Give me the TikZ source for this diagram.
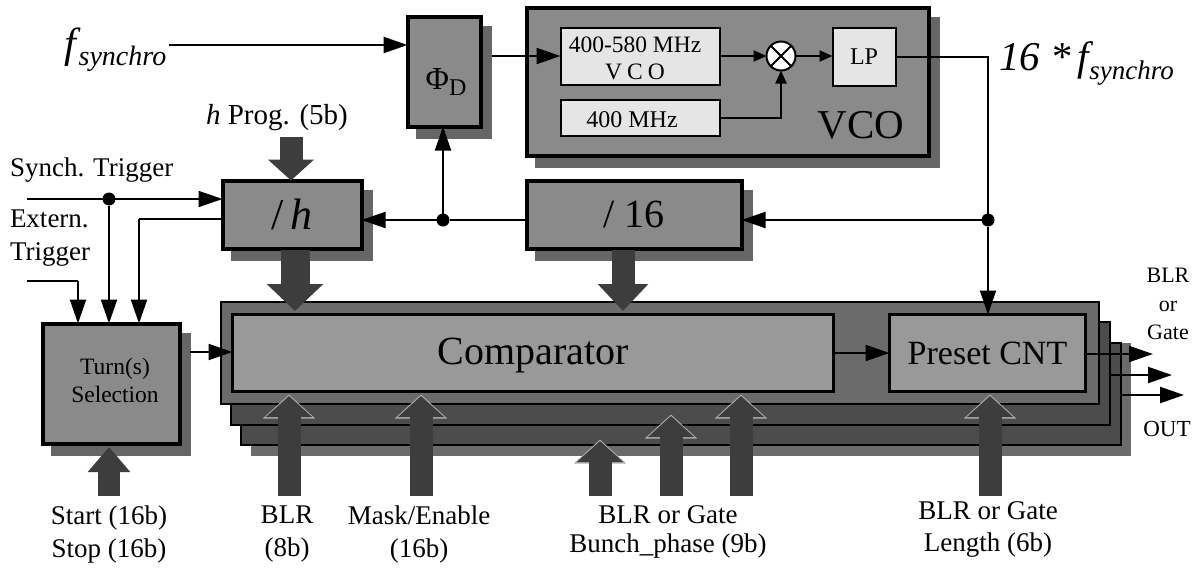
\documentclass[tikz,border=0pt]{standalone}
\usepackage{fontspec}
\setmainfont{Liberation Serif}
\usetikzlibrary{arrows.meta,calc}
\definecolor{boxgray}{gray}{0.54}
\definecolor{shadowgray}{gray}{0.40}
\definecolor{innergray}{gray}{0.90}
\definecolor{compgray}{gray}{0.60}
\definecolor{stackgray}{gray}{0.30}
\definecolor{backgray}{gray}{0.42}
\definecolor{shaftgray}{gray}{0.24}
\definecolor{halogray}{gray}{0.68}
\newcommand{\fs}[1]{\fontsize{#1}{#1}\selectfont}
\tikzset{
  blockbox/.style={draw=black,line width=4pt,fill=boxgray,inner sep=0pt,outer sep=0pt,align=center},
  innerbox/.style={draw=black,line width=2pt,fill=innergray,inner sep=0pt,outer sep=0pt,align=center},
  compbox/.style={draw=black,line width=3pt,fill=compgray,inner sep=0pt,outer sep=0pt,align=center},
  wire/.style={draw=black,line width=2pt,-{Triangle[length=24pt,width=16pt]}},
  smallwire/.style={draw=black,line width=2pt,-{Triangle[length=13pt,width=11pt]}},
  plainwire/.style={draw=black,line width=2pt},
  dotnode/.style={circle,fill=black,inner sep=0pt,minimum size=13pt,outer sep=0pt},
  bigarrow/.style={draw=shaftgray,line width=23pt,line cap=butt,-{Triangle[length=21pt,width=45pt]}},
  haloarrow/.style={bigarrow,preaction={draw=halogray,line width=23pt,-{Triangle[length=24pt,width=51pt]},shorten >=-1.5pt}},
  label/.style={inner sep=0pt,outer sep=0pt,align=center,font=\fs{27}},
  smalllabel/.style={label,font=\fs{22}}
}
% \blk[style]{name}{x1}{y1}{x2}{y2}{text}
\newcommand{\blk}[7][blockbox]{%
  \pgfmathsetmacro{\bw}{#5-#3-3}\pgfmathsetmacro{\bh}{#6-#4-3}%
  \pgfmathsetmacro{\bx}{(#3+#5)/2}\pgfmathsetmacro{\by}{(#4+#6)/2}%
  \node[#1,minimum width=\bw pt,minimum height=\bh pt] (#2) at (\bx,\by) {#7};}
\newcommand{\shadow}[4]{\fill[shadowgray] (#1+10,#2+11) rectangle (#3+10,#4+11);}
\begin{document}
\begin{tikzpicture}[x=1pt,y=-1pt]
\useasboundingbox (0,0) rectangle (1200,568);
\fill[white] (0,0) rectangle (1200,568);

% shadows
\shadow{406}{15}{482}{128}
\shadow{525}{6}{930}{157}
\shadow{221}{179}{363}{250}
\shadow{525}{179}{743}{250}
\shadow{41}{322}{181}{445}

% comparator stack
\fill[backgray] (251,343) rectangle (1131,456);
\draw[line width=2.4pt,fill=stackgray] (241,343) rectangle (1121,445);
\draw[line width=2.4pt,fill=stackgray] (231,322) rectangle (1110,425);
\draw[line width=2.4pt,fill=backgray] (221,302) rectangle (1099,404);

% blocks
\blk{phi}{406}{15}{482}{128}{}
\blk{vcobox}{525}{6}{930}{157}{}
\blk{divh}{221}{179}{363}{250}{\fs{44}/\,\textit{h}}
\blk{div16}{525}{179}{743}{250}{\fs{40}/ 16}
\blk{turn}{41}{322}{181}{445}{}
\blk[compbox]{comp}{231}{313}{835}{393}{\fs{40}\raisebox{-11pt}[0pt][0pt]{Comparator}}
\blk[compbox]{preset}{888}{313}{1087}{393}{\fs{34}Preset CNT}
\blk[innerbox]{vcoa}{559}{26}{721}{86}{}
\blk[innerbox]{vcob}{559}{98}{721}{137}{}
\blk[innerbox]{lp}{831}{26}{897}{87}{\fs{24}LP}
\node[circle,draw=black,line width=2pt,fill=white,minimum size=29pt,inner sep=0pt,outer sep=0pt] (mix) at (781,56) {};
\draw[line width=1.8pt] (mix.45) -- (mix.225) (mix.135) -- (mix.315);

% block texts
\node[label,font=\fs{32}] (phitxt) at (446,82) {Φ\raisebox{-6pt}{\fs{24}D}};
\node[label,font=\fs{41}] (vcotxt) at (861,125) {VCO};
\node[label,font=\fs{23.5}] (turntxt) at (115,380) {Turn(s)\\[4.5pt]Selection};
\node[label,font=\fs{23.5}] (vcoatxt) at (635,58) {400-580 MHz\\[3.5pt]V\hspace{5pt}C\hspace{5pt}O};
\node[label,font=\fs{24}] (vcobtxt) at (632,120) {400 MHz};

% outside labels
\node[label,font=\fs{42}\itshape,anchor=base west] (fin) at (64,57) {f\hspace{3pt}\raisebox{-8pt}{\fs{28}synchro}};
\node[label,font=\fs{41}\itshape,anchor=base west] (fout) at (999,70) {16 *\hspace{-3pt} f\raisebox{-9pt}{\fs{27}synchro}};
\node[label,font=\fs{29}] (hprog) at (277,118) {\textit{h} Prog. (5b)};
\node[label,anchor=west] (synch) at (10,170) {Synch. Trigger};
\node[label,anchor=west,align=left] (ext) at (10,238) {Extern.\\[6pt]Trigger};
\node[smalllabel] (blr1) at (1168,304) {BLR\\[6.5pt]or\\[6.5pt]Gate};
\node[smalllabel,font=\fs{23}] (out) at (1167,429) {OUT};
\node[label] (startl) at (109,534) {Start (16b)\\[6pt]Stop (16b)};
\node[label] (blrl) at (287,534) {BLR\\[6pt](8b)};
\node[label] (maskl) at (419,534) {Mask/Enable\\[6pt](16b)};
\node[label] (bunchl) at (668,532) {BLR or Gate\\[2pt]Bunch\_phase (9b)};
\node[label] (lenl) at (988,529) {BLR or Gate\\[5pt]Length (6b)};

% junctions and free ends
\node[dotnode] (j1) at (443,220) {};
\node[dotnode] (j2) at (988,220) {};
\node[dotnode] (j3) at (109,199) {};
\coordinate (finS) at (169,45);
\coordinate (phiO) at (492,56);
\coordinate (turnO) at (190,352);
\coordinate (synchS) at (27,199);
\coordinate (extS) at (27,281);
\coordinate (extB) at (78,281);
\coordinate (back) at (139,219);
\coordinate (lpE) at (988,57);
\coordinate (o1) at (1153,354);
\coordinate (o2) at (1172,375);
\coordinate (o3) at (1184,395);
\coordinate (o2s) at (1110,375);
\coordinate (o3s) at (1121,395);

% wires
\draw[wire,line width=2.5pt] (finS) -- (phi.west |- finS);
\draw[wire] (phiO) -- (vcoa.west |- phiO);
\draw[smallwire] (vcoa.east |- mix.west) -- (mix.west);
\draw[smallwire] (mix.east) -- (lp.west |- mix.east);
\draw[smallwire] (vcob.east |- 0,118) -| (mix.south);
\draw[plainwire] (lp.east |- lpE) -- (lpE) -- (j2);
\draw[wire] (j2) -- (div16.east |- j2);
\draw[wire] (j2) -- (j2 |- preset.north);
\draw[plainwire] (div16.west |- j1) -- (j1);
\draw[wire] (j1) -- (divh.east |- j1);
\draw[wire] (j1) -- (j1 |- phi.south);
\draw[wire] (synchS) -- (divh.west |- synchS);
\draw[wire] (j3) -- (j3 |- turn.north);
\draw[plainwire] (extS) -- (extB);
\draw[wire] (extB) -- (extB |- turn.north);
\draw[plainwire] (divh.west |- back) -- (back);
\draw[wire] (back) -- (back |- turn.north);
\draw[wire] (turnO) -- (comp.west |- turnO);
\draw[wire] (comp.east |- 0,353) -- (preset.west |- 0,353);
\draw[wire] (preset.east |- o1) -- (o1);
\draw[wire] (o2s) -- (o2);
\draw[wire] (o3s) -- (o3);

% bus arrows
\coordinate (hpS) at (291,137);
\draw[bigarrow] (hpS) -- (hpS |- divh.north);
\coordinate (h1) at (295,250);
\draw[bigarrow,line width=29pt,-{Triangle[length=27pt,width=55pt]}] (h1) -- (295,311);
\coordinate (h2) at (623,250);
\draw[bigarrow,-{Triangle[length=27pt,width=49pt]}] (h2) -- (623,311);
\draw[bigarrow,line width=22pt,-{Triangle[length=25pt,width=41pt]}] (109,496) -- (109,447);
\draw[haloarrow] (289,496) -- (289,396);
\draw[haloarrow] (421,496) -- (421,396);
\draw[haloarrow] (600,496) -- (600,441);
\draw[haloarrow] (671,496) -- (671,416);
\draw[haloarrow] (741,496) -- (741,396);
\draw[haloarrow] (990,496) -- (990,396);
\end{tikzpicture}
\end{document}
